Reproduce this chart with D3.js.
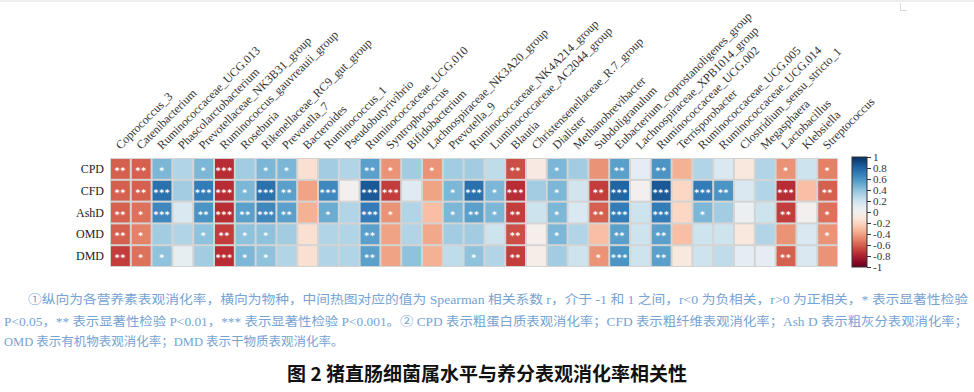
<!DOCTYPE html>
<html><head><meta charset="utf-8">
<script src="https://cdn.jsdelivr.net/npm/d3@7"></script>
<style>body{margin:0;background:#fff}svg{display:block}</style>
</head><body><svg id="c" width="974" height="392"></svg>
<script>
const genera = ["Coprococcus_3","Catenibacterium","Ruminococcaceae_UCG.013","Phascolarctobacterium","Prevotellaceae_NK3B31_group","Ruminococcus_gauvreauii_group","Roseburia","Rikenellaceae_RC9_gut_group","Prevotella_7","Bacteroides","Ruminococcus_1","Pseudobutyrivibrio","Ruminococcaceae_UCG.010","Syntrophococcus","Bifidobacterium","Lachnospiraceae_NK3A20_group","Prevotella_9","Ruminococcaceae_NK4A214_group","Luminococcaceae_AC2044_group","Blautia","Christensenellaceae_R.7_group","Dialister","Methanobrevibacter","Subdoligranulum","Eubacterium_coprostanoligenes_group","Lachnospiraceae_XPB1014_group","Ruminococcaceae_UCG.002","Terrisporobacter","Ruminococcaceae_UCG.005","Ruminococcaceae_UCG.014","Clostridium_sensu_stricto_1","Megasphaera","Lactobacillus","Klebsiella","Streptococcus"];
const nutrients = ["CPD","CFD","AshD","OMD","DMD"];
const rCPD  = [-0.6,-0.6,0.45,0.3,0.45,-0.75,0.35,0.45,0.45,-0.15,0.35,0.3,0.55,-0.45,0.35,-0.45,0.35,0.35,0.25,-0.65,-0.08,0.45,0.35,-0.45,0.55,0.1,0.6,-0.35,0.3,0.15,-0.1,0.3,-0.45,0.2,-0.5];
const rCFD  = [-0.6,-0.6,0.75,0.35,0.7,-0.75,0.45,0.75,0.55,-0.4,0.65,0.0,0.85,-0.7,0.12,-0.4,0.45,0.75,0.45,-0.75,0.35,0.45,0.18,-0.7,0.8,0.0,0.85,-0.2,0.7,0.6,0.15,0.3,-0.75,-0.3,-0.6];
const rAshD = [-0.6,-0.55,0.65,0.15,0.6,-0.75,0.55,0.65,0.55,-0.35,0.5,0.3,0.7,-0.45,0.3,-0.3,0.45,0.55,0.45,-0.7,0.2,0.45,0.15,-0.6,0.7,0.2,0.7,-0.2,0.45,0.35,0.05,0.2,-0.7,0.0,-0.55];
const rOMD  = [-0.6,-0.5,0.35,0.3,0.4,-0.7,0.4,0.4,0.35,-0.15,0.3,0.3,0.55,-0.4,0.3,-0.38,0.35,0.35,0.2,-0.65,-0.03,0.45,0.3,-0.3,0.55,0.2,0.55,-0.3,0.2,0.2,-0.1,0.3,-0.45,0.15,-0.45];
const rDMD  = [-0.7,-0.55,0.4,0.08,0.35,-0.75,0.45,0.4,0.3,-0.15,0.3,0.3,0.55,-0.4,0.4,-0.35,0.25,0.4,0.3,-0.7,-0.05,0.35,0.2,-0.45,0.6,0.2,0.55,-0.1,0.2,0.25,0.1,0.1,-0.6,0.15,-0.45];
const sCPD  = [2,2,1,0,1,3,0,1,1,0,0,0,2,1,0,1,0,0,0,2,0,1,0,0,2,0,2,0,0,0,0,0,1,0,1];
const sCFD  = [2,2,3,0,3,3,1,3,2,0,3,0,3,3,0,0,1,3,1,3,0,1,0,2,3,0,3,0,3,2,0,0,3,0,2];
const sAshD = [2,1,3,0,2,3,2,3,2,0,1,0,3,1,0,0,1,2,1,2,0,1,0,2,3,0,3,0,1,0,0,0,2,0,1];
const sOMD  = [2,1,0,0,1,2,1,1,0,0,0,0,2,0,0,0,0,0,0,2,0,1,0,0,2,0,2,0,0,0,0,0,0,0,1];
const sDMD  = [2,1,1,0,0,3,1,1,0,0,0,0,2,0,0,0,0,1,0,2,0,0,0,1,3,0,2,0,0,0,0,0,2,0,0];
const values = [rCPD,rCFD,rAshD,rOMD,rDMD];
const sigs = [sCPD,sCFD,sAshD,sOMD,sDMD];
const legendTicks = [1,0.8,0.6,0.4,0.2,0,-0.2,-0.4,-0.6,-0.8,-1];
const note1 = "①纵向为各营养素表观消化率，横向为物种，中间热图对应的值为 Spearman 相关系数 r，介于 -1 和 1 之间，r<0 为负相关，r>0 为正相关，* 表示显著性检验";
const note2 = "P<0.05，** 表示显著性检验 P<0.01，*** 表示显著性检验 P<0.001。② CPD 表示粗蛋白质表观消化率；CFD 表示粗纤维表观消化率；Ash D 表示粗灰分表观消化率；";
const note3 = "OMD 表示有机物表观消化率；DMD 表示干物质表观消化率。";
const title = "图 2 猪直肠细菌属水平与养分表观消化率相关性";

const svg = d3.select("#c");
const serif = "'Liberation Serif','DejaVu Serif',serif";
const color = d3.scaleSequential(t => d3.interpolateRdBu(t)).domain([-1,1]);

const x = d3.scaleBand().domain(genera).range([110,838]);
const y = d3.scaleBand().domain(nutrients).range([158,267]);

// faint top line and corner mark
svg.append("line").attr("x1",0).attr("x2",974).attr("y1",1).attr("y2",1).attr("stroke","#eeeeee").attr("stroke-width",2);
svg.append("path").attr("d","M900.5,3V10.5H907").attr("fill","none").attr("stroke","#d8d8d8");

const cells = [];
nutrients.forEach((n,i)=>genera.forEach((g,j)=>cells.push({n,g,v:values[i][j],s:sigs[i][j]})));

svg.append("rect").attr("x",110).attr("y",158).attr("width",728).attr("height",109).attr("fill","#d4d4d4");
const cg = svg.append("g");
cg.selectAll("rect").data(cells).join("rect")
  .attr("x",d=>x(d.g)+1).attr("y",d=>y(d.n)+1)
  .attr("width",x.bandwidth()-2).attr("height",y.bandwidth()-2)
  .attr("fill",d=>color(d.v));
cg.selectAll("text").data(cells.filter(d=>d.s>0)).join("text")
  .attr("x",d=>x(d.g)+x.bandwidth()/2).attr("y",d=>y(d.n)+y.bandwidth()/2+5)
  .attr("text-anchor","middle").attr("fill","#fff")
  .attr("font-family","'DejaVu Sans',sans-serif").attr("font-size",9).attr("font-weight","bold")
  .attr("letter-spacing",1)
  .text(d=>"*".repeat(d.s));

// row labels
svg.append("g").selectAll("text").data(nutrients).join("text")
  .attr("x",104).attr("y",d=>y(d)+y.bandwidth()/2+4)
  .attr("text-anchor","end").attr("font-family",serif).attr("font-size",12).attr("fill","#222")
  .text(d=>d);

// column labels
svg.append("g").selectAll("text").data(genera).join("text")
  .attr("transform",d=>`translate(${x(d)+x.bandwidth()/2},150) rotate(-45)`)
  .attr("font-family",serif).attr("font-size",12).attr("fill","#333")
  .text(d=>d);

// color legend
const defs = svg.append("defs");
const grad = defs.append("linearGradient").attr("id","cb").attr("x1",0).attr("x2",0).attr("y1",1).attr("y2",0);
d3.range(0,1.0001,0.05).forEach(t=>grad.append("stop").attr("offset",t).attr("stop-color",d3.interpolateRdBu(t)));
svg.append("rect").attr("x",852).attr("y",157).attr("width",15).attr("height",110).attr("fill","url(#cb)").attr("stroke","#333").attr("stroke-width",1);
const ly = d3.scaleLinear().domain([-1,1]).range([267,157]);
const ax = svg.append("g").attr("transform","translate(867,0)")
  .call(d3.axisRight(ly).tickValues(legendTicks).tickSize(4).tickPadding(2).tickFormat(d=>d===0?"0":String(+d.toFixed(1))));
ax.select(".domain").remove();
ax.selectAll("line").attr("stroke","#333");
ax.selectAll("text").attr("font-family",serif).attr("font-size",11).attr("fill","#333");

// notes
const noteFont = "'Liberation Serif','Noto Sans CJK SC',serif";
const nc = "#76a3d3";
svg.append("text").attr("x",28).attr("y",304).attr("font-family",noteFont).attr("font-size",12.5).attr("fill",nc)
  .attr("textLength",940).attr("lengthAdjust","spacingAndGlyphs").text(note1);
svg.append("text").attr("x",4).attr("y",326).attr("font-family",noteFont).attr("font-size",12.5).attr("fill",nc)
  .attr("textLength",964).attr("lengthAdjust","spacingAndGlyphs").text(note2);
svg.append("text").attr("x",4).attr("y",346).attr("font-family",noteFont).attr("font-size",12.5).attr("fill",nc)
  .text(note3);
svg.append("text").attr("x",487).attr("y",381).attr("text-anchor","middle")
  .attr("font-family","'Noto Sans CJK SC',sans-serif").attr("font-weight","bold").attr("font-size",19).attr("fill","#111")
  .text(title);
</script></body></html>
